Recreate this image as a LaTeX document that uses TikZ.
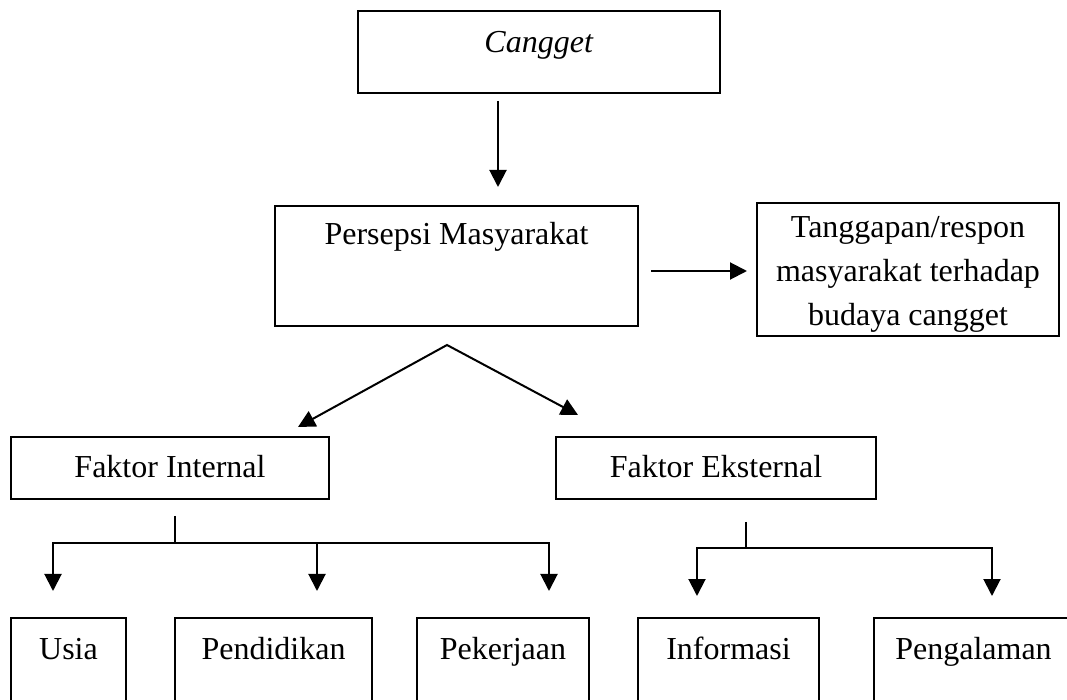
\documentclass[tikz,border=0pt]{standalone}
\usepackage{fontspec}
\setmainfont{Liberation Serif}
\usetikzlibrary{arrows.meta}

\tikzset{
    >={Triangle[length=8.5pt,width=8.5pt]},
    box/.style={draw, line width=1pt, inner sep=0pt, anchor=north, align=center},
    arr/.style={line width=1pt, ->},
    garis/.style={line width=1pt},
    stem/.style={line width=0.6pt},
}

\begin{document}
\begin{tikzpicture}[x=0.5pt, y=-0.5pt, font=\fontsize{16}{22}\selectfont]
    \useasboundingbox (0,0) rectangle (1067,700);
    \clip (0,0) rectangle (1067,700);
    % kotak atas
    \node[box, minimum width=181pt, text height=21pt, text depth=20pt] (cangget) at (539,10) {\textit{Cangget}};
    \node[box, minimum width=181.5pt, text height=19.5pt, text depth=40.5pt] (persepsi) at (456.5,205) {Persepsi Masyarakat};
    \node[box, minimum width=151pt, text height=61.5pt, text depth=5pt] (tanggapan) at (908,202) {Tanggapan/respon\\ masyarakat terhadap\\ budaya cangget};
    % faktor
    \node[box, minimum width=159pt, text height=20.5pt, text depth=10.5pt] (fint) at (170,436) {Faktor Internal};
    \node[box, minimum width=160pt, text height=20.5pt, text depth=10.5pt] (feks) at (716,436) {Faktor Eksternal};
    % kotak bawah
    \node[box, minimum width=57.5pt, text height=20.5pt, text depth=30pt] (usia) at (68.5,617) {Usia};
    \node[box, minimum width=98.5pt, text height=20.5pt, text depth=30pt] (pendidikan) at (273.5,617) {Pendidikan};
    \node[box, minimum width=86pt, text height=20.5pt, text depth=30pt] (pekerjaan) at (503,617) {Pekerjaan};
    \node[box, minimum width=90.5pt, text height=20.5pt, text depth=30pt] (informasi) at (728.5,617) {Informasi};
    \node[box, minimum width=99.5pt, text height=20.5pt, text depth=30pt] (pengalaman) at (973.5,617) {Pengalaman};

    % panah atas
    \coordinate (a1) at ([xshift=-20.5pt]cangget.south);
    \draw[arr, shorten <=3.5pt, shorten >=9pt] (a1) -- (a1 |- persepsi.north);
    \coordinate (a2) at ([yshift=-2.5pt]persepsi.east);
    \draw[arr, shorten <=6pt, shorten >=4.5pt] (a2) -- (a2 -| tanggapan.west);
    \coordinate (puncak) at ([xshift=-4.75pt,yshift=-9pt]persepsi.south);
    \draw[garis, <->] ([xshift=-16pt,yshift=4.5pt]fint.north east) -- (puncak) -- ([xshift=11.5pt,yshift=10.5pt]feks.north west);

    % cabang internal
    \coordinate (ibar) at (175,543);
    \coordinate (ia) at (53,543);
    \coordinate (ib) at (317,543);
    \coordinate (ic) at (549,543);
    \draw[stem] ([xshift=2.5pt,yshift=-8pt]fint.south) -- (ibar);
    \draw[garis, <->, shorten <=13pt, shorten >=13pt] (ia |- usia.north) -- (ia) -- (ic) -- (ic |- pekerjaan.north);
    \draw[arr, shorten >=13pt] (ib) -- (ib |- pendidikan.north);

    % cabang eksternal
    \coordinate (ebar) at (746,548);
    \coordinate (ea) at (697,548);
    \coordinate (eb) at (992,548);
    \draw[stem] ([xshift=15pt,yshift=-11pt]feks.south) -- (ebar);
    \draw[garis, <->, shorten <=10.5pt, shorten >=10.5pt] (ea |- informasi.north) -- (ea) -- (eb) -- (eb |- pengalaman.north);
\end{tikzpicture}
\end{document}
